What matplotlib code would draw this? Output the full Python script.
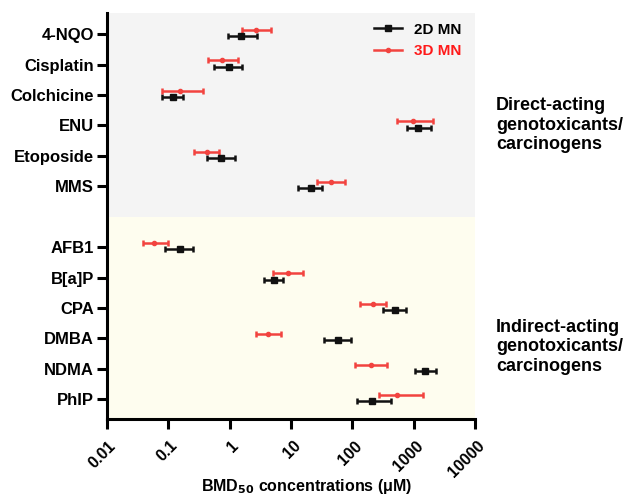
import numpy as np
import matplotlib.pyplot as plt
from matplotlib.lines import Line2D
from matplotlib.transforms import ScaledTranslation

plt.rcParams["font.family"] = ["Liberation Sans", "DejaVu Sans"]
plt.rcParams["font.weight"] = "bold"

compounds = ["4-NQO", "Cisplatin", "Colchicine", "ENU", "Etoposide", "MMS",
             "AFB1", "B[a]P", "CPA", "DMBA", "NDMA", "PhIP"]

# 2D MN: BMD50 with lower / upper confidence bounds (uM)
bmd_2d = [1.54, 0.97, 0.119, 1190, 0.734, 21.0,
          0.158, 5.37, 496, 57.8, 1528, 212]
lo_2d = [0.95, 0.565, 0.079, 769, 0.434, 13.2,
         0.089, 3.69, 320, 35.0, 1050, 118]
hi_2d = [2.77, 1.58, 0.173, 1913, 1.23, 31.8,
         0.257, 7.52, 750, 95.2, 2281, 427]

# 3D MN
bmd_3d = [2.67, 0.76, 0.158, 985, 0.425, 44.5,
          0.059, 9.07, 220, 4.29, 202, 541]
lo_3d = [1.62, 0.45, 0.079, 541, 0.264, 26.3,
         0.039, 5.17, 133, 2.67, 111, 269]
hi_3d = [4.74, 1.39, 0.37, 2040, 0.674, 76.9,
         0.101, 15.9, 354, 6.82, 372, 1402]

xticks = [0.01, 0.1, 1, 10, 100, 1000, 10000]
xtick_labels = ["0.01", "0.1", "1", "10", "100", "1000", "10000"]

# direct-acting compounds take slots 0-5, one empty slot, then indirect ones
ypos = np.array(list(range(6)) + list(range(7, 13)), dtype=float)

fig = plt.figure(figsize=(6.3, 4.97), dpi=100)
ax = fig.add_axes([0.1694, 0.157, 0.585, 0.817])

ax.axhspan(-0.7, 6.0, color="#f4f4f4", zorder=0, lw=0)
ax.axhspan(6.0, 12.65, color="#fefdef", zorder=0, lw=0)

red = "#f2433f"

b2 = np.array(bmd_2d)
ax.errorbar(b2, ypos + 0.07,
            xerr=[b2 - np.array(lo_2d), np.array(hi_2d) - b2],
            fmt="s", color="#111111", ms=4, lw=1.8, capsize=2.5,
            capthick=1.8, zorder=3)
b3 = np.array(bmd_3d)
ax.errorbar(b3, ypos - 0.14,
            xerr=[b3 - np.array(lo_3d), np.array(hi_3d) - b3],
            fmt="o", color=red, ms=3, lw=1.8, capsize=2.5,
            capthick=1.8, zorder=3)

ax.set_xscale("log")
ax.set_xlim(0.01, 10000)
ax.set_ylim(12.65, -0.7)
ax.set_xticks(xticks)
ax.set_xticklabels([])
ax.minorticks_off()

# rotated tick labels placed a little right of and below each tick
lab_tr = ax.get_xaxis_transform() + ScaledTranslation(0.07, -0.245,
                                                      fig.dpi_scale_trans)
for xv, s in zip(xticks, xtick_labels):
    ax.text(xv, 0, s, transform=lab_tr, rotation=45, ha="right",
            va="center", rotation_mode="anchor", fontsize=11.5,
            fontweight="bold", clip_on=False)

ax.set_yticks(ypos)
ax.set_yticklabels(compounds, fontsize=12, fontweight="bold")

for side in ["top", "right"]:
    ax.spines[side].set_visible(False)
for side in ["left", "bottom"]:
    ax.spines[side].set_linewidth(2.2)
ax.tick_params(width=2.2, length=7)
ax.tick_params(axis="y", pad=2)

ax.set_xlabel(r"BMD$_{\mathbf{50}}$ concentrations (μM)", fontsize=11.5,
              fontweight="bold")
ax.xaxis.set_label_coords(0.543, -0.142)

handles = [Line2D([], [], color="#111111", marker="s", ms=4, lw=1.8),
           Line2D([], [], color=red, marker="o", ms=3, lw=1.8)]
leg = ax.legend(handles, ["2D MN", "3D MN"], loc="upper right",
                frameon=False, fontsize=11, handlelength=1.8,
                bbox_to_anchor=(1.0, 1.01))
for txt, col in zip(leg.get_texts(), ["black", "#ff1a1a"]):
    txt.set_color(col)

fig.text(0.787, 0.748, "Direct-acting\ngenotoxicants/\ncarcinogens",
         fontsize=13, fontweight="bold", va="center", ha="left",
         linespacing=1.2)
fig.text(0.787, 0.302, "Indirect-acting\ngenotoxicants/\ncarcinogens",
         fontsize=13, fontweight="bold", va="center", ha="left",
         linespacing=1.2)

fig.savefig("out.png", dpi=100)
